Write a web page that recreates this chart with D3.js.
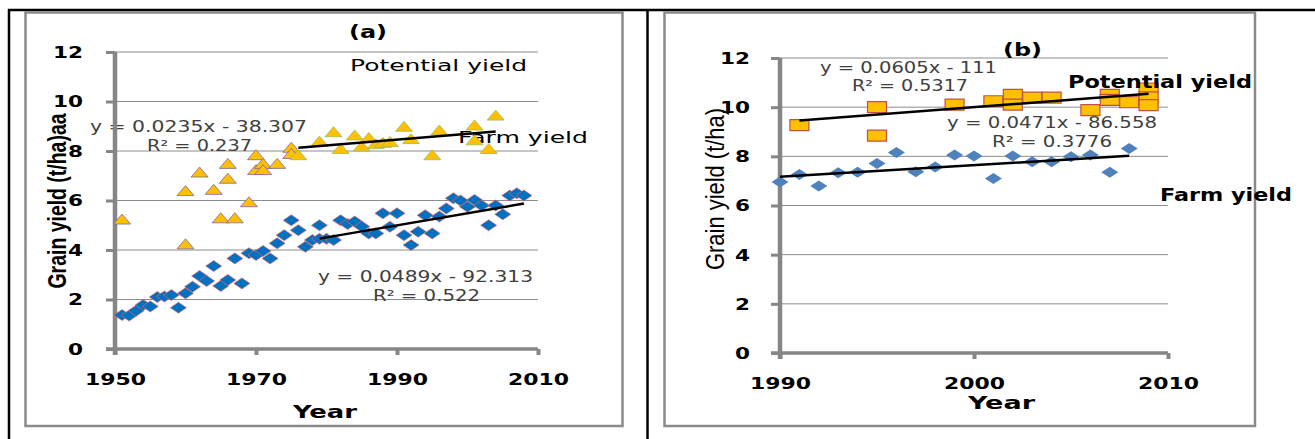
<!DOCTYPE html>
<html>
<head>
<meta charset="utf-8">
<script src="https://cdn.jsdelivr.net/npm/d3@7"></script>
<style>
  body { margin: 0; background: #fff; }
  svg { display: block; }
</style>
</head>
<body>
<svg id="chart" width="1315" height="439"></svg>
<script>
// ---------- data ----------
const yieldTicks = [0, 2, 4, 6, 8, 10, 12];
const yearTicksA = [1950, 1970, 1990, 2010];
const yearTicksB = [1990, 2000, 2010];

// Panel (a): potential yield, before and after the 1976 break
const potentialEarlyYears  = [1951, 1960, 1960, 1962, 1964, 1965, 1966, 1966, 1967, 1969, 1970, 1970, 1971, 1971, 1973, 1975, 1975];
const potentialEarlyValues = [5.25, 4.25, 6.4, 7.15, 6.45, 5.3, 7.5, 6.9, 5.3, 5.95, 7.85, 7.25, 7.5, 7.25, 7.5, 8.15, 7.9];
const potentialLateYears   = [1976, 1979, 1981, 1982, 1984, 1985, 1986, 1987, 1988, 1989, 1991, 1992, 1995, 1996, 2001, 2001, 2003, 2004];
const potentialLateValues  = [7.85, 8.4, 8.78, 8.1, 8.65, 8.2, 8.55, 8.3, 8.35, 8.38, 9.0, 8.5, 7.85, 8.85, 9.05, 8.45, 8.1, 9.45];

// Panel (a): farm yield
const farmEarlyYears  = [1951, 1952, 1953, 1954, 1955, 1956, 1957, 1958, 1959, 1960, 1961, 1962, 1963, 1964, 1965, 1966, 1967, 1968, 1969, 1970, 1971, 1972, 1973, 1974, 1975, 1976, 1977, 1978];
const farmEarlyValues = [1.37, 1.35, 1.55, 1.78, 1.72, 2.1, 2.12, 2.18, 1.67, 2.25, 2.52, 2.95, 2.75, 3.35, 2.55, 2.79, 3.66, 2.65, 3.87, 3.8, 3.96, 3.66, 4.27, 4.6, 5.2, 4.8, 4.13, 4.4];
const farmLateYears   = [1979, 1979, 1980, 1981, 1982, 1983, 1984, 1985, 1986, 1987, 1988, 1989, 1990, 1991, 1992, 1993, 1994, 1995, 1996, 1997, 1998, 1999, 2000, 2001, 2002, 2003, 2004, 2005, 2006, 2007, 2008];
const farmLateValues  = [5.0, 4.45, 4.45, 4.4, 5.2, 5.05, 5.15, 4.95, 4.67, 4.67, 5.48, 4.94, 5.48, 4.6, 4.2, 4.74, 5.4, 4.67, 5.35, 5.68, 6.09, 6.0, 5.75, 6.02, 5.8, 5.0, 5.8, 5.44, 6.2, 6.29, 6.2];

// Panel (b)
const farmYearsB  = [1990, 1991, 1992, 1993, 1994, 1995, 1996, 1997, 1998, 1999, 2000, 2001, 2002, 2003, 2004, 2005, 2006, 2007, 2008];
const farmValuesB = [6.96, 7.26, 6.79, 7.33, 7.35, 7.71, 8.16, 7.37, 7.57, 8.05, 8.01, 7.1, 8.01, 7.78, 7.78, 7.98, 8.05, 7.35, 8.32];
const potentialYearsB  = [1991, 1995, 1995, 1999, 2001, 2002, 2002, 2003, 2004, 2006, 2007, 2007, 2008, 2009, 2009, 2009];
const potentialValuesB = [9.27, 10.0, 8.84, 10.1, 10.24, 10.5, 10.1, 10.39, 10.39, 9.88, 10.5, 10.3, 10.2, 10.76, 10.4, 10.08];

// Linear trends: [slope, intercept]
const trendPotentialA = [0.0235, -38.307];
const trendFarmA      = [0.0489, -92.313];
const trendPotentialB = [0.0605, -111];
const trendFarmB      = [0.0471, -86.558];

// ---------- drawing ----------
const svg = d3.select('#chart');
const GRID = '#8c8c8c';
const AXIS = '#868686';
const VERDANA = '"DejaVu Sans", Verdana, sans-serif';
const SANS = '"Liberation Sans", Arial, sans-serif';

function label(parent, txt, cx, cy, len, opts = {}) {
  return parent.append('text')
    .attr('x', cx).attr('y', cy).attr('dy', '0.36em')
    .attr('text-anchor', 'middle')
    .attr('textLength', len).attr('lengthAdjust', 'spacingAndGlyphs')
    .style('font-family', opts.family || VERDANA)
    .style('font-size', (opts.size || 15) + 'px')
    .style('font-weight', opts.weight || 'normal')
    .attr('fill', opts.color || '#000')
    .text(txt);
}

function markerPath(shape, w, h) {
  if (shape === 'diamond') return `M0,${-h/2}L${w/2},0L0,${h/2}L${-w/2},0Z`;
  if (shape === 'triangle') return `M0,${-h/2}L${w/2},${h/2}L${-w/2},${h/2}Z`;
  return `M${-w/2},${-h/2}H${w/2}V${h/2}H${-w/2}Z`;
}

function drawPanel(cfg) {
  const g = svg.append('g');
  const x = d3.scaleLinear().domain(cfg.xDomain).range([cfg.left, cfg.right]);
  const y = d3.scaleLinear().domain([0, 12]).range([cfg.bottom, cfg.top]);

  // panel frame
  g.append('rect').attr('x', cfg.frame[0]).attr('y', cfg.frame[1])
    .attr('width', cfg.frame[2] - cfg.frame[0]).attr('height', cfg.frame[3] - cfg.frame[1])
    .attr('fill', '#fff').attr('stroke', '#8a8a8a').attr('stroke-width', 2.5);

  // horizontal gridlines
  g.selectAll('line.grid').data(yieldTicks.filter(v => v > 0)).join('line')
    .attr('class', 'grid')
    .attr('x1', cfg.left).attr('x2', cfg.right)
    .attr('y1', d => y(d)).attr('y2', d => y(d))
    .attr('stroke', GRID).attr('stroke-width', 1);

  // annotation texts
  cfg.texts.forEach(t => label(g, t.text, t.x, t.y, t.len, t));

  // y title
  g.append('text')
    .attr('transform', `translate(${cfg.yTitle.x},${cfg.yTitle.y}) rotate(-90)`)
    .attr('text-anchor', 'middle')
    .attr('textLength', cfg.yTitle.len).attr('lengthAdjust', 'spacingAndGlyphs')
    .style('font-family', SANS).style('font-size', cfg.yTitle.size + 'px')
    .style('font-weight', cfg.yTitle.weight)
    .text(cfg.yTitle.text);

  // axes
  const ya = g.append('g').attr('transform', `translate(${cfg.left},0)`)
    .call(d3.axisLeft(y).tickValues(yieldTicks).tickSize(9).tickSizeOuter(0));
  ya.select('.domain').remove();
  ya.selectAll('.tick line').attr('stroke', AXIS).attr('stroke-width', 3);
  ya.selectAll('.tick text')
    .attr('x', -cfg.yLabelGap).attr('dy', '0.36em')
    .style('font-family', VERDANA).style('font-size', '15px').style('font-weight', 'bold')
    .attr('fill', '#000')
    .attr('textLength', d => String(d).length * 15).attr('lengthAdjust', 'spacingAndGlyphs');

  const xa = g.append('g').attr('transform', `translate(0,${cfg.bottom})`)
    .call(d3.axisBottom(x).tickValues(cfg.xTicks).tickFormat(d3.format('d')).tickSize(6).tickSizeOuter(0));
  xa.select('.domain').remove();
  xa.selectAll('.tick line').attr('stroke', AXIS).attr('stroke-width', 4);
  xa.selectAll('.tick text')
    .attr('y', cfg.xLabelGap).attr('dy', '0.36em')
    .style('font-family', VERDANA).style('font-size', '16px').style('font-weight', 'bold')
    .attr('fill', '#000')
    .attr('textLength', 61).attr('lengthAdjust', 'spacingAndGlyphs');

  // axis lines
  g.append('line').attr('x1', cfg.left - 9).attr('x2', cfg.right)
    .attr('y1', cfg.bottom).attr('y2', cfg.bottom)
    .attr('stroke', AXIS).attr('stroke-width', 3.5);
  g.append('line').attr('x1', cfg.left).attr('x2', cfg.left)
    .attr('y1', cfg.top).attr('y2', cfg.bottom + 6)
    .attr('stroke', AXIS).attr('stroke-width', 4.5);

  // series
  cfg.series.forEach(s => {
    const pts = s.years.map((yr, i) => [yr, s.values[i]]);
    g.append('g').selectAll('path').data(pts).join('path')
      .attr('transform', d => `translate(${x(d[0])},${y(d[1])})`)
      .attr('d', markerPath(s.shape, s.w, s.h))
      .attr('fill', s.fill)
      .attr('stroke', s.stroke || 'none')
      .attr('stroke-width', s.strokeWidth || 0);
  });

  // trend lines over each fitted series range
  cfg.trends.forEach(t => {
    const [x0, x1] = d3.extent(t.years);
    const f = v => t.coef[0] * v + t.coef[1];
    g.append('line')
      .attr('x1', x(x0)).attr('y1', y(f(x0)))
      .attr('x2', x(x1)).attr('y2', y(f(x1)))
      .attr('stroke', '#000').attr('stroke-width', 2.5);
  });
}

// outer table rules
svg.append('line').attr('x1', 8).attr('x2', 1315).attr('y1', 10).attr('y2', 10).attr('stroke', '#000').attr('stroke-width', 2.5);
svg.append('line').attr('x1', 9).attr('x2', 9).attr('y1', 9).attr('y2', 439).attr('stroke', '#000').attr('stroke-width', 2.5);
svg.append('line').attr('x1', 647.5).attr('x2', 647.5).attr('y1', 9).attr('y2', 439).attr('stroke', '#000').attr('stroke-width', 2.5);

const EQ = '#404040';

drawPanel({
  frame: [25.5, 12.5, 622.5, 426],
  left: 115, right: 538, top: 52, bottom: 349,
  xDomain: [1950, 2010], xTicks: yearTicksA,
  yLabelGap: 32, xLabelGap: 30,
  yTitle: { text: 'Grain yield (t/ha)aa', x: 66, y: 201, len: 175, size: 25, weight: 'bold' },
  texts: [
    { text: '(a)', x: 368, y: 32, len: 38, size: 18, weight: 'bold' },
    { text: 'Potential yield', x: 438.5, y: 65, len: 177, size: 16 },
    { text: 'Farm yield', x: 523, y: 137, len: 130, size: 16 },
    { text: 'y = 0.0235x - 38.307', x: 198.5, y: 127, len: 217, size: 15, color: EQ },
    { text: 'R² = 0.237', x: 199.5, y: 146, len: 105, size: 15, color: EQ },
    { text: 'y = 0.0489x - 92.313', x: 425.5, y: 277, len: 215, size: 15, color: EQ },
    { text: 'R² = 0.522', x: 426.5, y: 296, len: 107, size: 15, color: EQ },
    { text: 'Year', x: 325, y: 412, len: 64, size: 18, weight: 'bold' }
  ],
  series: [
    { years: potentialEarlyYears, values: potentialEarlyValues, shape: 'triangle', w: 17, h: 10, fill: '#FFC000', stroke: '#8064A2', strokeWidth: 0.8 },
    { years: potentialLateYears, values: potentialLateValues, shape: 'triangle', w: 17, h: 10, fill: '#FFC000', stroke: '#9BBB59', strokeWidth: 0.8 },
    { years: farmEarlyYears, values: farmEarlyValues, shape: 'diamond', w: 16, h: 11, fill: '#0070C0', stroke: '#E06666', strokeWidth: 0.7 },
    { years: farmLateYears, values: farmLateValues, shape: 'diamond', w: 16, h: 11, fill: '#0070C0', stroke: '#E06666', strokeWidth: 0.7 }
  ],
  trends: [
    { years: potentialLateYears, coef: trendPotentialA },
    { years: farmLateYears, coef: trendFarmA }
  ]
});

drawPanel({
  frame: [664.5, 12.5, 1255, 426],
  left: 780, right: 1168, top: 58, bottom: 353,
  xDomain: [1990, 2010], xTicks: yearTicksB,
  yLabelGap: 30, xLabelGap: 30,
  yTitle: { text: 'Grain yield (t/ha)', x: 724, y: 189, len: 162, size: 26, weight: 'normal' },
  texts: [
    { text: '(b)', x: 1022.5, y: 50, len: 39, size: 18, weight: 'bold' },
    { text: 'y = 0.0605x - 111', x: 908.5, y: 68, len: 177, size: 15, color: EQ },
    { text: 'R² = 0.5317', x: 910, y: 86, len: 116, size: 15, color: EQ },
    { text: 'y = 0.0471x - 86.558', x: 1052, y: 123, len: 210, size: 15, color: EQ },
    { text: 'R² = 0.3776', x: 1052, y: 142, len: 120, size: 15, color: EQ },
    { text: 'Year', x: 1001.5, y: 403, len: 67, size: 18, weight: 'bold' }
  ],
  series: [
    { years: farmYearsB, values: farmValuesB, shape: 'diamond', w: 17, h: 11, fill: '#4F81BD' },
    { years: potentialYearsB, values: potentialValuesB, shape: 'square', w: 19, h: 11, fill: '#FFC000', stroke: '#C0504D', strokeWidth: 1.2 }
  ],
  trends: [
    { years: potentialYearsB, coef: trendPotentialB },
    { years: farmYearsB, coef: trendFarmB }
  ]
});

// bold series names in panel (b) sit above the plot
const nameLayer = svg.append('g');
label(nameLayer, 'Potential yield', 1160, 82, 184, { size: 17, weight: 'bold' });
label(nameLayer, 'Farm yield', 1226, 195, 132, { size: 17, weight: 'bold' });
</script>
</body>
</html>
